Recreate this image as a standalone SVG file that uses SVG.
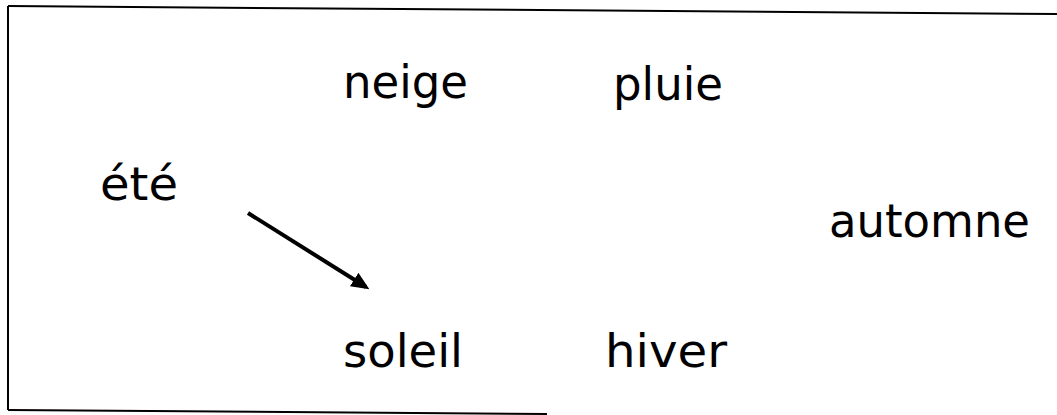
<svg xmlns="http://www.w3.org/2000/svg" width="1057" height="415" viewBox="0 0 1057 415">
<defs>
<style>
.w{font-family:"Comic Sans MS","DejaVu Sans","Open Sans",sans-serif;font-size:47px;fill:#000;}
.frame{stroke:#000;fill:none;stroke-width:2;}
</style>
<marker id="ah" markerWidth="4.5" markerHeight="4" refX="3.5" refY="2" orient="auto" markerUnits="strokeWidth">
<path d="M0,0 L4.5,2 L0,4 Z" fill="#000"/>
</marker>
</defs>
<g id="frame">
<line class="frame" x1="8" y1="6" x2="1057" y2="14"/>
<line class="frame" x1="8" y1="6" x2="8" y2="410"/>
<line class="frame" x1="8" y1="410" x2="547" y2="414"/>
</g>
<g id="node-neige"><text class="w" x="343" y="98" textLength="125" lengthAdjust="spacingAndGlyphs">neige</text></g>
<g id="node-pluie"><text class="w" x="613" y="100" textLength="110" lengthAdjust="spacingAndGlyphs">pluie</text></g>
<g id="node-ete"><text class="w" x="100" y="200" textLength="78" lengthAdjust="spacingAndGlyphs">été</text></g>
<g id="node-automne"><text class="w" x="829" y="237" textLength="201" lengthAdjust="spacingAndGlyphs">automne</text></g>
<g id="node-soleil"><text class="w" x="343" y="367" textLength="120" lengthAdjust="spacingAndGlyphs">soleil</text></g>
<g id="node-hiver"><text class="w" x="605" y="367" textLength="122" lengthAdjust="spacingAndGlyphs">hiver</text></g>
<g id="connectors">
<line x1="248" y1="213" x2="366" y2="287" stroke="#000" stroke-width="4" marker-end="url(#ah)"/>
</g>
</svg>
